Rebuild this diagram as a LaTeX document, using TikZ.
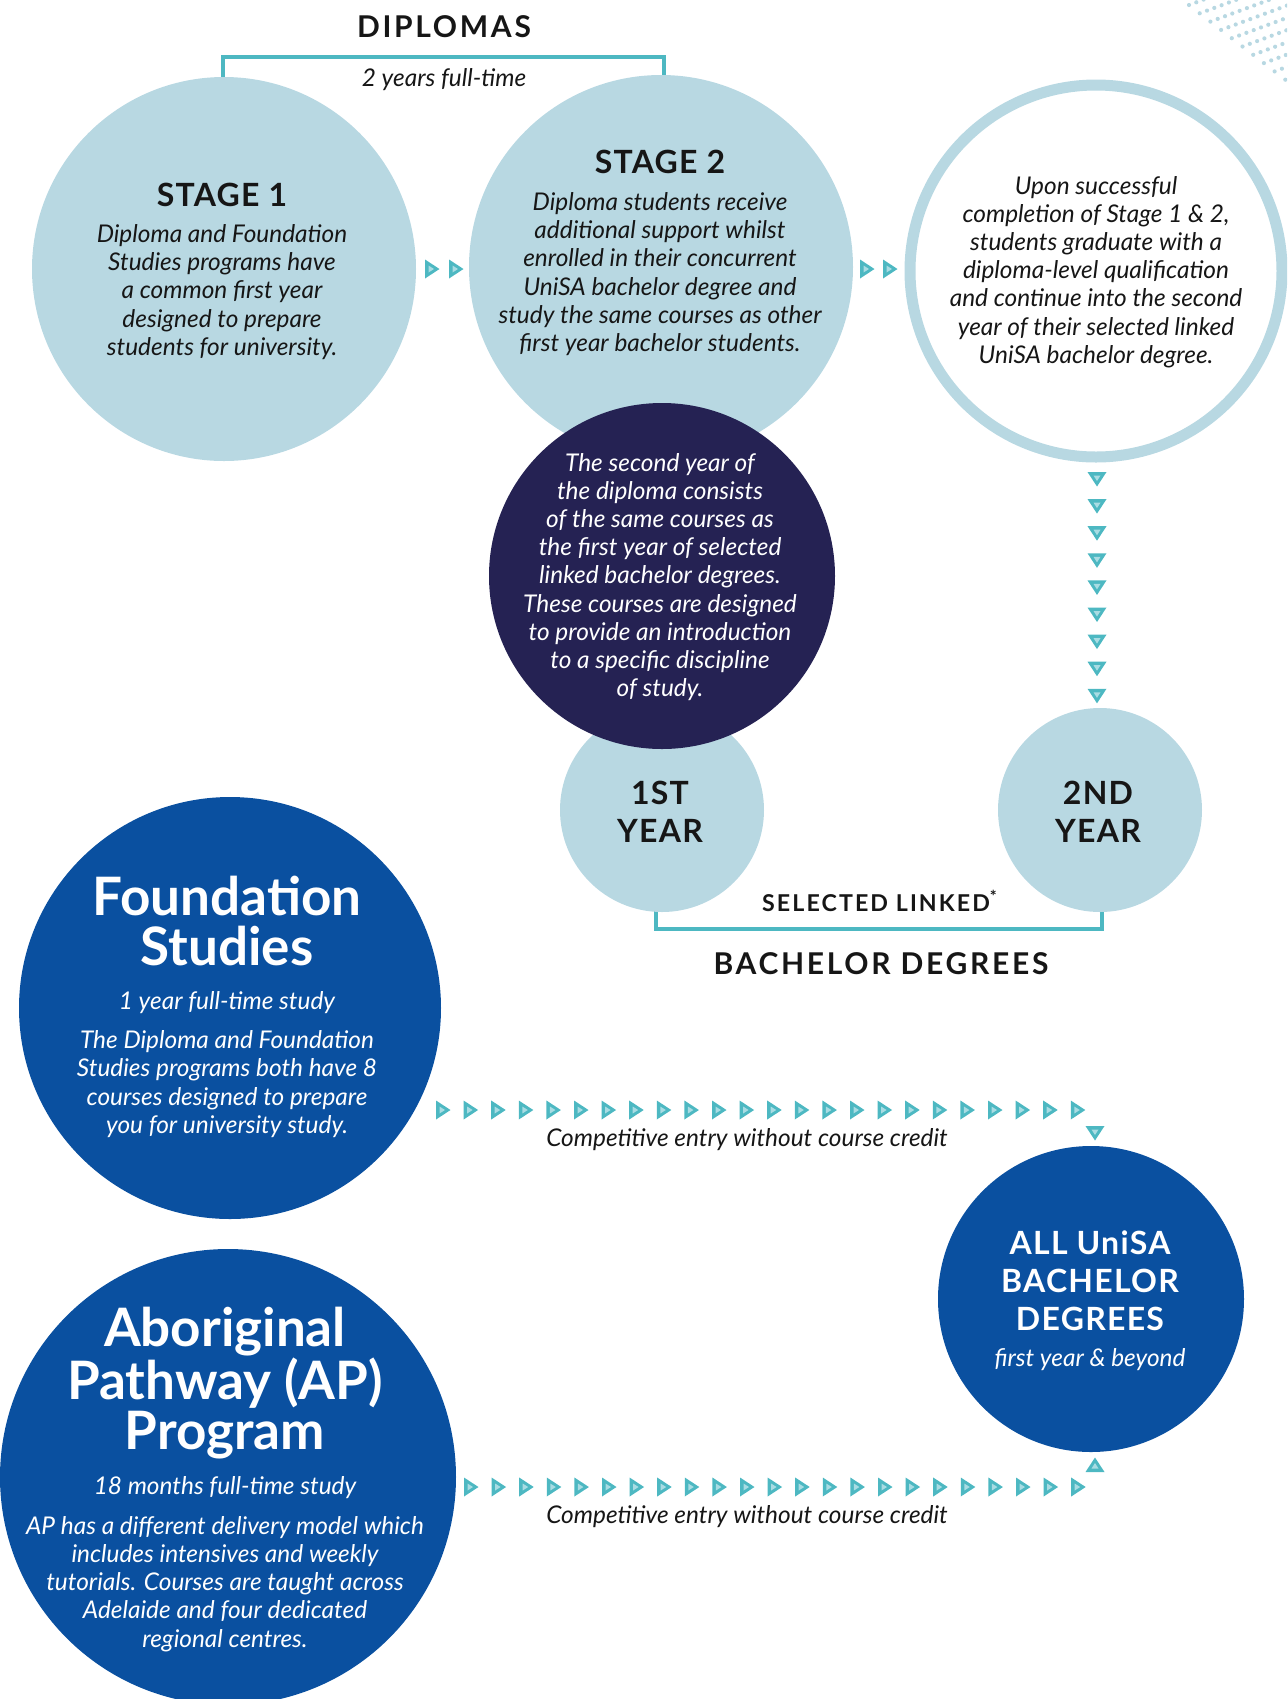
\documentclass[tikz,border=0pt]{standalone}
\usepackage{fontspec}
\setmainfont{Lato}
\newfontfamily\headfont[LetterSpace=9]{Lato}
\newfontfamily\headfontb[LetterSpace=4]{Lato}
\definecolor{lb}{HTML}{B8D8E2}
\definecolor{teal}{HTML}{4DB8C2}
\definecolor{tealin}{HTML}{A9DCE3}
\definecolor{navy}{HTML}{252253}
\definecolor{royal}{HTML}{0A50A0}
\definecolor{ink}{HTML}{161616}
\tikzset{
  body/.style={font=\itshape\fontsize{12.2}{14.1}\selectfont, align=center, text=ink, inner sep=0pt},
  wbody/.style={body, text=white},
  caps/.style={font=\headfontb\bfseries\fontsize{16}{19}\selectfont, align=center, text=ink, inner sep=0pt},
  widecaps/.style={caps, font=\headfont\bfseries\fontsize{15}{17}\selectfont},
  bigtitle/.style={font=\bfseries\fontsize{26.5}{25.2}\selectfont, align=center, text=white, inner sep=0pt},
  disc/.style={circle, inner sep=0pt, outer sep=0pt},
  bracket/.style={draw=teal, line width=1.75pt},
  tri/.pic={\fill[teal] (-7,-9.5) -- (7.5,0) -- (-7,9.5) -- cycle;
            \fill[tealin] (-3.5,-3.5) -- (2,0) -- (-3.5,3.5) -- cycle;}
}
\begin{document}
\begin{tikzpicture}[x=0.5pt,y=-0.5pt]
\useasboundingbox (0,0) rectangle (1287,1699);
\clip (0,0) rectangle (1287,1699);
% dots top right
\foreach \i in {0,...,30}{
  \foreach \j in {0,...,12}{
    \fill[lb] ({1189+7.3*\i+10.7*\j},{5-2.7*\i+8.3*\j}) circle[radius=2.1];
  }
}
% brackets
\coordinate (bt1) at (223,78); \coordinate (bt2) at (223,57);
\coordinate (bt3) at (664,57); \coordinate (bt4) at (664,78);
\draw[bracket] (bt1) -- (bt2) -- (bt3) -- (bt4);
\coordinate (bb1) at (656,905); \coordinate (bb2) at (656,929);
\coordinate (bb3) at (1102,929); \coordinate (bb4) at (1102,905);
\draw[bracket] (bb1) -- (bb2) -- (bb3) -- (bb4);

\node[widecaps] (dipl) at (444,27) {DIPLOMAS};
\node[body] (twoyr) at (444,80) {2 years full-time};

% circles
\node[disc, fill=lb, minimum size=192pt] (s1) at (224,269) {};
\node[disc, fill=lb, minimum size=192pt] (s2) at (661,267) {};
\node[disc, draw=lb, line width=5.5pt, fill=white, minimum size=186pt] (s3) at (1096,271) {};
\node[disc, fill=lb, minimum size=102pt] (y1) at (662,810) {};
\node[disc, fill=lb, minimum size=102pt] (y2) at (1100,810) {};
\node[disc, fill=navy, minimum size=173pt] (dk) at (662,576) {};
\node[disc, fill=royal, minimum size=211pt] (fs) at (230,1008) {};
\node[disc, fill=royal, minimum size=228pt] (ap) at (228,1477) {};
\node[disc, fill=royal, minimum size=153pt] (all) at (1091,1299) {};

% stage texts
\node[caps] (s1t) at (222,195) {STAGE 1};
\node[body] (s1b) at (222,292) {Diploma and Foundation\\Studies programs have\\a common first year\\designed to prepare\\students for university.};
\node[caps] (s2t) at (660,162) {STAGE 2};
\node[body] (s2b) at (660,274) {Diploma students receive\\additional support whilst\\enrolled in their concurrent\\UniSA bachelor degree and\\study the same courses as other\\first year bachelor students.};
\node[body] (s3b) at (1096,272) {Upon successful\\completion of Stage 1 \& 2,\\students graduate with a\\diploma-level qualification\\and continue into the second\\year of their selected linked\\UniSA bachelor degree.};
\node[wbody] (dkb) at (660,577) {The second year of\\the diploma consists\\of the same courses as\\the first year of selected\\linked bachelor degrees.\\These courses are designed\\to provide an introduction\\to a specific discipline\\of study.};

\node[caps] (y1t) at (660,812) {1ST\\YEAR};
\node[caps] (y2t) at (1098,812) {2ND\\YEAR};
\node[widecaps, font=\headfont\bfseries\fontsize{11.6}{13}\selectfont] (sel) at (880,901) {SELECTED LINKED\textsuperscript{*}};
\node[widecaps] (bach) at (881,964) {BACHELOR DEGREES};

% foundation
\node[bigtitle] (fst) at (227,921) {Foundation\\Studies};
\node[wbody] (fs1) at (227,1003) {1 year full-time study};
\node[wbody] (fsb) at (227,1084) {The Diploma and Foundation\\Studies programs both have 8\\courses designed to prepare\\you for university study.};

% aboriginal
\node[bigtitle] (apt) at (225,1383) {Aboriginal\\Pathway (AP)\\Program};
\node[wbody] (ap1) at (225,1488) {18 months full-time study};
\node[wbody] (apb) at (225,1584) {AP has a different delivery model which\\includes intensives and weekly\\tutorials. Courses are taught across\\Adelaide and four dedicated\\regional centres.};

% all unisa
\node[caps, text=white] (allt) at (1090,1281) {ALL UniSA\\BACHELOR\\DEGREES};
\node[wbody] (all1) at (1090,1360) {first year \& beyond};

% competitive entry labels
\node[body] (ce1) at (747,1140) {Competitive entry without course credit};
\node[body] (ce2) at (747,1517) {Competitive entry without course credit};

% arrows between stages
\pic at (432,269) {tri}; \pic at (456,269) {tri};
\pic at (867,269) {tri}; \pic at (890,269) {tri};
% vertical arrows
\foreach \k in {0,...,8}{ \pic[rotate=-90] at (1097,{479+27.1*\k}) {tri}; }
% row 1
\foreach \k in {0,...,23}{ \pic at ({443+27.6*\k},1110) {tri}; }
\pic[rotate=-90] at (1095,1133) {tri};
% row 2
\foreach \k in {0,...,22}{ \pic at ({471+27.6*\k},1487) {tri}; }
\pic[rotate=90] at (1095,1465) {tri};
\end{tikzpicture}
\end{document}
